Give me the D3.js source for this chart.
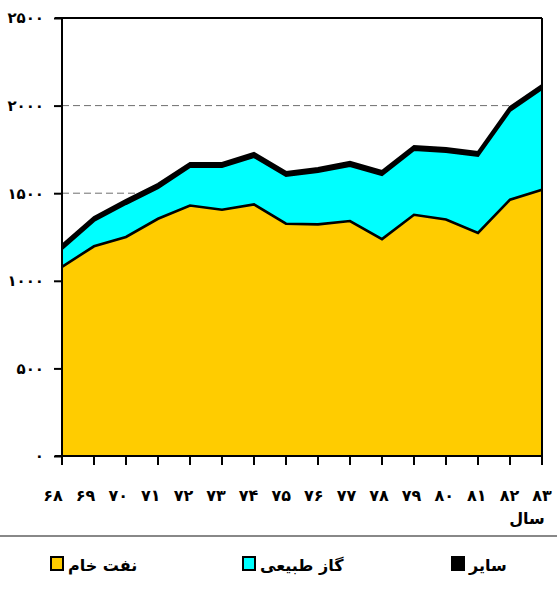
<!DOCTYPE html>
<html>
<head>
<meta charset="utf-8">
<script src="https://cdn.jsdelivr.net/npm/d3@7"></script>
<style>
  html, body { margin: 0; padding: 0; background: #fff; }
  svg { display: block; }
  text { font-family: "DejaVu Sans", sans-serif; font-weight: bold; fill: #000; }
</style>
</head>
<body>
<script>
// ---- data ----
const years = [68, 69, 70, 71, 72, 73, 74, 75, 76, 77, 78, 79, 80, 81, 82, 83];
const yearLabels = ["۶۸","۶۹","۷۰","۷۱","۷۲","۷۳","۷۴","۷۵","۷۶","۷۷","۷۸","۷۹","۸۰","۸۱","۸۲","۸۳"];
const oil   = [1080, 1197, 1250, 1354, 1430, 1406, 1436, 1326, 1322, 1341, 1238, 1377, 1350, 1273, 1463, 1520];
const gas   = [103, 146, 190, 177, 221, 245, 272, 274, 300, 316, 367, 371, 387, 441, 508, 576];
const other = [20, 20, 21, 21, 20, 20, 20, 20, 20, 20, 20, 20, 20, 20, 20, 20];
const yTicks = [0, 500, 1000, 1500, 2000, 2500];
const yTickLabels = ["۰", "۵۰۰", "۱۰۰۰", "۱۵۰۰", "۲۰۰۰", "۲۵۰۰"];
const seriesNames = ["نفت خام", "گاز طبیعی", "سایر"];
const seriesColors = ["#FFCC00", "#00FFFF", "#000000"];
const xAxisTitle = "سال";

const W = 557, H = 596;
const svg = d3.select("body").append("svg").attr("width", W).attr("height", H);

const x = d3.scaleLinear().domain([68, 83]).range([62, 542]);
const xLab = d3.scaleLinear().domain([68, 83]).range([53, 542]);
const y = d3.scaleLinear().domain([0, 2500]).range([456, 18]);

const rows = years.map((yr, i) => ({ year: yr, oil: oil[i], gas: gas[i], other: other[i] }));
const stack = d3.stack().keys(["oil", "gas", "other"]);
const layers = stack(rows);

// gridlines
svg.append("g").selectAll("line").data(yTicks.filter(v => v > 0 && v < 2500)).join("line")
  .attr("x1", x(68)).attr("x2", x(83))
  .attr("y1", d => y(d)).attr("y2", d => y(d))
  .attr("stroke", "#6f6f6f").attr("stroke-width", 1).attr("stroke-dasharray", "7,4");

// areas
const area = d3.area().x(d => x(d.data.year)).y0(d => y(d[0])).y1(d => y(d[1]));
const topLine = d3.line().x(d => x(d.data.year)).y(d => y(d[1]));

svg.append("g").selectAll("path").data(layers).join("path")
  .attr("d", area).attr("fill", (d, i) => seriesColors[i]);
svg.append("g").selectAll("path").data(layers).join("path")
  .attr("d", topLine).attr("fill", "none").attr("stroke", "#000")
  .attr("stroke-width", 2.6).attr("stroke-linejoin", "miter");

// frame: top and right
svg.append("line").attr("x1", 55).attr("x2", x(83)).attr("y1", y(2500)).attr("y2", y(2500))
  .attr("stroke", "#000").attr("stroke-width", 2);
svg.append("line").attr("x1", x(83)).attr("x2", x(83)).attr("y1", y(2500)).attr("y2", 465)
  .attr("stroke", "#000").attr("stroke-width", 2);

// y axis
const yAxis = d3.axisLeft(y).tickValues(yTicks).tickSize(8).tickFormat((d, i) => yTickLabels[i]).tickPadding(10);
const gy = svg.append("g").attr("transform", `translate(${x(68)},0)`).call(yAxis);
gy.select(".domain").remove();
gy.selectAll(".tick line").attr("stroke", "#000").attr("stroke-width", 2);
gy.selectAll(".tick text").style("font-size", "15px").style("font-family", "DejaVu Sans").style("font-weight", "bold");
svg.append("line").attr("x1", x(68)).attr("x2", x(68)).attr("y1", y(2500) - 1).attr("y2", 465)
  .attr("stroke", "#000").attr("stroke-width", 2);

// x axis
svg.append("line").attr("x1", 55).attr("x2", x(83) + 1).attr("y1", y(0)).attr("y2", y(0))
  .attr("stroke", "#000").attr("stroke-width", 2);
svg.append("g").selectAll("line").data(years).join("line")
  .attr("x1", d => x(d)).attr("x2", d => x(d)).attr("y1", y(0)).attr("y2", 465)
  .attr("stroke", "#000").attr("stroke-width", 2);
svg.append("g").selectAll("text").data(years).join("text")
  .attr("x", d => xLab(d)).attr("y", 501)
  .attr("text-anchor", "middle").style("font-size", "16px")
  .text((d, i) => yearLabels[i]);
svg.append("text").attr("x", 527).attr("y", 524).attr("text-anchor", "middle")
  .style("font-size", "16px").text(xAxisTitle);

// separator
svg.append("line").attr("x1", 0).attr("x2", W).attr("y1", 536).attr("y2", 536)
  .attr("stroke", "#888").attr("stroke-width", 2);

// legend
const legX = [50, 242, 451];
const lg = svg.append("g").selectAll("g").data(seriesNames).join("g")
  .attr("transform", (d, i) => `translate(${legX[i]},557)`);
lg.append("rect").attr("x", 1).attr("y", 0).attr("width", 12).attr("height", 13)
  .attr("fill", (d, i) => seriesColors[i]).attr("stroke", "#000").attr("stroke-width", 2);
lg.append("text").attr("x", 18).attr("y", 14).style("font-size", "16px").text(d => d);
</script>
</body>
</html>
